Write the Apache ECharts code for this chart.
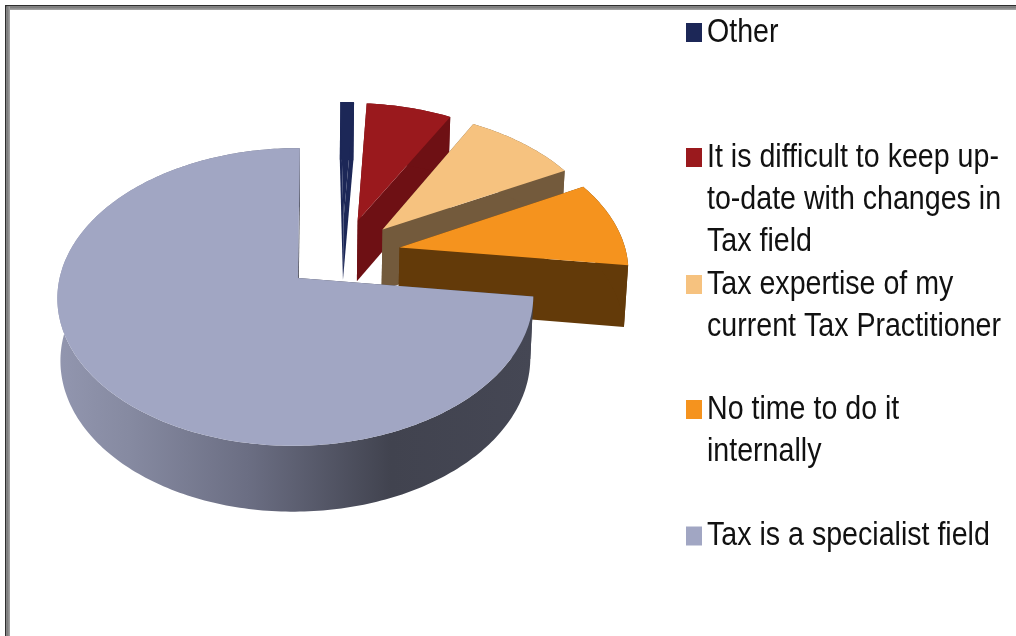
<!DOCTYPE html>
<html>
<head>
<meta charset="utf-8">
<style>html,body{margin:0;padding:0;background:#fff}#c{width:1016px;height:636px}</style>
<script src="https://cdn.jsdelivr.net/npm/echarts@6/dist/echarts.min.js"></script>
</head>
<body>
<div id="c"></div>
<script>
// ---- data ----
const categories = ['Other', 'It is difficult to keep up-to-date with changes in Tax field', 'Tax expertise of my current Tax Practitioner', 'No time to do it internally', 'Tax is a specialist field'];
const legendLines = [['Other'], ['It is difficult to keep up-', 'to-date with changes in', 'Tax field'], ['Tax expertise of my', 'current Tax Practitioner'], ['No time to do it', 'internally'], ['Tax is a specialist field']];
const shares = [1.1, 6.9, 9.2, 9.8, 73];
// ---- styles ----
const topColors = ['#1c2757', '#9a191d', '#f6c27f', '#f5931e', '#a1a6c3'];
const sideColors = ['#1c2757', '#6e1014', '#735a3c', '#633a09', '#40424f'];
const legendY = [32.5, 157.5, 284.5, 409.5, 536];
const LINE = 42;

// ---- 3-D exploded pie projection ----
const TOTAL = shares.reduce((a, b) => a + b, 0);
const EXPLODE = 0.255;
const spans = []; let acc = 0;
shares.forEach(s => { const a0 = acc / TOTAL * 2 * Math.PI; acc += s; spans.push([a0, acc / TOTAL * 2 * Math.PI]); });
const mids = spans.map(s => (s[0] + s[1]) / 2);
const ref = mids[mids.length - 1];
const K = 0.1274, J = 0.01;
function top3d(u, v) { const d = 1 + K * v + J * u; return [298 + (236 * u + 2 * v) / d, 278 - 146.4 * v / d]; }
function bot3d(u, v) { const d = 1 + K * v + J * u; return [298 + (233 * u + 2 * v) / d, 340 - 149.8 * v / d]; }

function renderSlice(i, value) {
  const [a0] = spans[i];
  const a1 = a0 + value / TOTAL * 2 * Math.PI;
  const ou = EXPLODE * (Math.sin(mids[i]) - Math.sin(ref));
  const ov = EXPLODE * (Math.cos(mids[i]) - Math.cos(ref));
  const rim = [];
  const n = Math.max(4, Math.ceil((a1 - a0) / (Math.PI / 180)));
  for (let k = 0; k <= n; k++) { const a = a0 + (a1 - a0) * k / n; rim.push([ou + Math.sin(a), ov + Math.cos(a)]); }
  const topRim = rim.map(p => top3d(p[0], p[1]));
  const botRim = rim.map(p => bot3d(p[0], p[1]));
  const apexT = top3d(ou, ov), apexB = bot3d(ou, ov);
  const isBig = i === shares.length - 1;
  const sideFill = sideColors[i];
  const rimFill = isBig ? {
    type: 'linear', x: 0, y: 0, x2: 1, y2: 0,
    colorStops: [{offset: 0, color: '#9296af'}, {offset: 0.15, color: '#868aa1'}, {offset: 0.4, color: '#6b6e83'}, {offset: 0.7, color: '#41434f'}, {offset: 1, color: '#454754'}]
  } : sideFill;
  const poly = (pts, fill) => ({type: 'polygon', shape: {points: pts}, style: {fill: fill}});
  return {
    type: 'group',
    children: [
      poly([apexT, topRim[0], botRim[0], apexB], sideFill),
      poly([apexT, topRim[n], botRim[n], apexB], sideFill),
      poly(topRim.concat(botRim.slice().reverse()), rimFill),
      poly([apexT].concat(topRim), topColors[i])
    ]
  };
}

const series = categories.map((name, i) => ({
  type: 'custom',
  name: name,
  coordinateSystem: 'none',
  silent: true,
  itemStyle: {color: topColors[i]},
  data: [[shares[i]]],
  renderItem: (params, api) => renderSlice(i, api.value(0))
}));

// legend: swatches plus vertically stretched text, as in the reference
const legendElements = [];
categories.forEach((name, i) => {
  legendElements.push({type: 'rect', silent: true, shape: {x: 686, y: legendY[i] - 9.5, width: 16, height: 19}, style: {fill: topColors[i]}});
  legendLines[i].forEach((line, j) => {
    legendElements.push({
      type: 'text', silent: true, x: 707, y: legendY[i] + 0.5 + j * LINE, scaleY: 1.13,
      style: {text: line, x: 0, y: 0, align: 'left', verticalAlign: 'middle', fontFamily: 'Liberation Sans', fontSize: 28.6, fill: '#111'}
    });
  });
});

const frame = [
  {type: 'rect', shape: {x: 5, y: 5, width: 1011, height: 1.5}, style: {fill: '#2e2e2e'}},
  {type: 'rect', shape: {x: 5, y: 5, width: 1.5, height: 631}, style: {fill: '#2e2e2e'}},
  {type: 'rect', shape: {x: 6.5, y: 6.5, width: 1009.5, height: 3.5}, style: {fill: {type: 'linear', x: 0, y: 0, x2: 0, y2: 1, colorStops: [{offset: 0, color: '#6e6e6e'}, {offset: 1, color: '#a8a8a8'}]}}},
  {type: 'rect', shape: {x: 6.5, y: 6.5, width: 3.5, height: 629.5}, style: {fill: {type: 'linear', x: 0, y: 0, x2: 1, y2: 0, colorStops: [{offset: 0, color: '#6e6e6e'}, {offset: 1, color: '#a8a8a8'}]}}}
];

const chart = echarts.init(document.getElementById('c'), null, {renderer: 'canvas'});
chart.setOption({
  animation: false,
  backgroundColor: '#ffffff',
  graphic: {elements: frame.concat(legendElements)},
  series: series
});
</script>
</body>
</html>
